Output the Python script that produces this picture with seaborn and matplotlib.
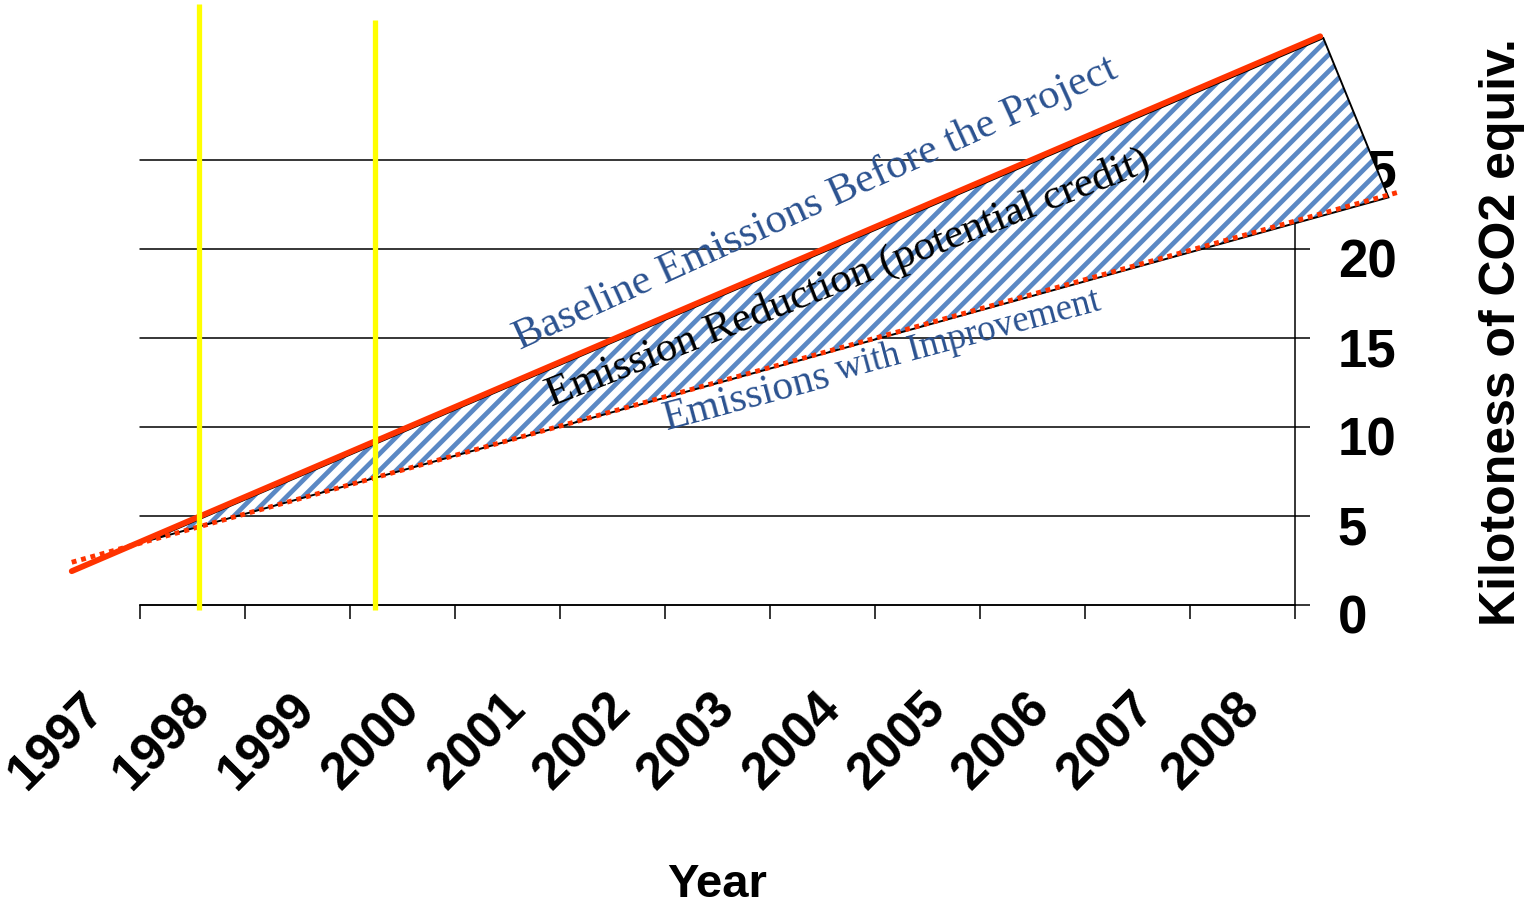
import matplotlib.pyplot as plt
import matplotlib.transforms as mtransforms
import seaborn as sns

# values
years = [1997, 1998, 1999, 2000, 2001, 2002, 2003, 2004, 2005, 2006, 2007, 2008]
kt_ticks = [0, 5, 10, 15, 20, 25]

baseline_x = [1996.35, 2008.24]
baseline_y = [1.9, 31.95]
improved_x = [1996.35, 2008.99]
improved_y = [2.4, 23.2]

credit_x = [1997.10, 2008.27, 2008.89]
credit_y = [3.65, 31.85, 22.9]

marker_years = [1997.56, 1999.24]
marker_bottom = -0.3
marker_tops = [33.75, 32.85]

sns.set_theme(style="white")
plt.rcParams['font.family'] = ['Liberation Sans', 'DejaVu Sans']
plt.rcParams['hatch.linewidth'] = 3.4
plt.rcParams['text.color'] = 'black'
plt.rcParams['axes.labelcolor'] = 'black'

fig = plt.figure(figsize=(15.27, 9.08), dpi=100)
ax = fig.add_axes([140/1527, 1-605/908, 1155/1527, 445/908])

# hatched reduction area (drawn above the axis so it hides the "2" of 25)
ax.fill(credit_x, credit_y, facecolor='white', edgecolor='#5A88C4', hatch='//',
        linewidth=0, clip_on=False, zorder=3)
ax.fill(credit_x, credit_y, facecolor='none', edgecolor='black',
        linewidth=1.4, clip_on=False, zorder=3.1)

sns.lineplot(x=baseline_x, y=baseline_y, ax=ax, color='#FF3300', linewidth=4.2,
             clip_on=False, zorder=4)
sns.lineplot(x=improved_x, y=improved_y, ax=ax, color='#FF3300', linewidth=3.5,
             linestyle=(0, (1, 1)), clip_on=False, zorder=4)

for xv, top in zip(marker_years, marker_tops):
    ax.vlines(xv, marker_bottom, top, color='#FFFF00', linewidth=3.8,
              clip_on=False, zorder=5)

ax.set_xlim(years[0], years[-1])
ax.set_ylim(kt_ticks[0], kt_ticks[-1])
ax.set_xticks(years)
ax.set_xticklabels([str(y) for y in years], rotation=45, ha='right', va='top',
                   fontsize=37, fontweight='bold')
ax.yaxis.tick_right()
ax.set_yticks(kt_ticks)
ax.set_yticklabels([str(v) for v in kt_ticks], fontsize=38, fontweight='bold')
ax.tick_params(axis='x', direction='out', length=10, width=1.1, color='black', pad=47,
               bottom=True, labelcolor='black')
ax.tick_params(axis='y', direction='out', length=10.8, width=1.1, color='black', pad=20,
               right=True, left=False, labelcolor='black')

ax.yaxis.grid(True, color='black', linewidth=1.1)
ax.xaxis.grid(False)
for gl in ax.get_ygridlines():
    gl.set_clip_on(False)
for side in ['left', 'top']:
    ax.spines[side].set_visible(False)
for side in ['right', 'bottom']:
    ax.spines[side].set_color('black')
    ax.spines[side].set_linewidth(1.1)

# shift tick labels like the original layout
xoff = mtransforms.ScaledTranslation(-25/100, 0, fig.dpi_scale_trans)
for lab in ax.get_xticklabels():
    lab.set_transform(lab.get_transform() + xoff)
yoff = mtransforms.ScaledTranslation(0, -9/100, fig.dpi_scale_trans)
for lab in ax.get_yticklabels():
    lab.set_transform(lab.get_transform() + yoff)

ax.set_xlabel('Year', fontsize=34, fontweight='bold')
ax.xaxis.set_label_coords(0.5, -0.58)
ax.set_ylabel('Kilotoness of CO2 equiv.', fontsize=36, fontweight='bold')
ax.yaxis.set_label_position('right')
ax.yaxis.set_label_coords(1.159, 0.613)

serif = ['Liberation Serif', 'DejaVu Serif']
txt_blue = '#2B5290'
ax.text(2000.62, 14.33, 'Baseline Emissions Before the Project', rotation=24.5,
        rotation_mode='anchor', ha='left', va='baseline', fontsize=31,
        color=txt_blue, family=serif, zorder=6)
ax.text(2000.92, 11.12, 'Emission Reduction (potential credit)', rotation=21.5,
        rotation_mode='anchor', ha='left', va='baseline', fontsize=31,
        color='black', family=serif, zorder=6)
ax.text(2002.02, 9.83, 'Emissions', rotation=15, rotation_mode='anchor',
        ha='left', va='baseline', fontsize=30, color=txt_blue, family=serif, zorder=6)
ax.text(2003.66, 12.60, 'with Improvement', rotation=15, rotation_mode='anchor',
        ha='left', va='baseline', fontsize=26.5, color=txt_blue, family=serif, zorder=6)

fig.savefig('out.png', dpi=100)
